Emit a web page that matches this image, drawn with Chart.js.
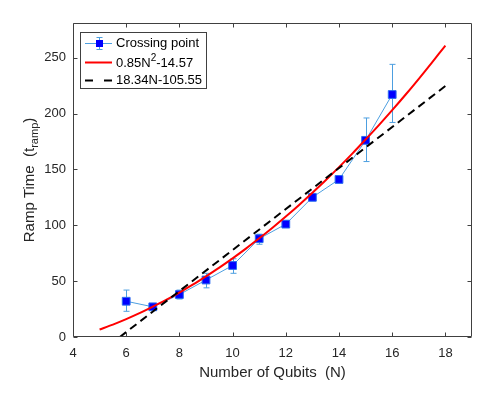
<!DOCTYPE html>
<html>
<head>
<meta charset="utf-8">
<script src="https://cdn.jsdelivr.net/npm/chart.js@4"></script>
<style>
html,body{margin:0;padding:0;background:#fff;}
#wrap{width:498px;height:396px;}
</style>
</head>
<body>
<div id="wrap"><canvas id="c" width="498" height="396"></canvas></div>
<script>
// ---- data ----
const nQubits   = [6, 7, 8, 9, 10, 11, 12, 13, 14, 15, 16];
const rampTime  = [32, 27, 38, 51, 64, 88, 101, 125, 141, 176, 217];
const errLower  = [23, 25, 34, 44, 57, 83, 98, 122, 138, 157, 192];
const errUpper  = [42, 29, 42, 57, 70, 92, 104, 128, 144, 196, 244];

const quadN     = [5, 5.5, 6, 6.5, 7, 7.5, 8, 8.5, 9, 9.5, 10, 10.5, 11, 11.5, 12, 12.5, 13, 13.5, 14, 14.5, 15, 15.5, 16, 16.5, 17, 17.5, 18];
const quadVals  = [6.7, 11.1, 16.0, 21.3, 27.1, 33.2, 39.8, 46.8, 54.3, 62.1, 70.4, 79.1, 88.3, 97.8, 107.8, 118.2, 129.1, 140.3, 152.0, 164.1, 176.7, 189.6, 203.0, 216.8, 231.1, 245.8, 260.8];

const linN      = [5.76, 18];
const linVals   = [0, 224.6];

const xTicks    = [4, 6, 8, 10, 12, 14, 16, 18];
const yTicks    = [0, 50, 100, 150, 200, 250];

const legendLabels = ['Crossing point', '0.85N', '18.34N-105.55'];
const xTitle = 'Number of Qubits  (N)';
const yTitleMain = 'Ramp Time  (t';
const yTitleSub = 'ramp';
const yTitleEnd = ')';

const FONT = "'Liberation Sans', Arial, Helvetica, sans-serif";
const AXIS = '#404040';
const TXT = '#262626';
const LBLUE = '#4d9fe0';

const toPts = (xs, ys) => xs.map((x, i) => ({x: x, y: ys[i]}));

const errorBars = {
  id: 'errorBars',
  beforeDatasetsDraw(chart) {
    const {ctx, scales: {x, y}} = chart;
    ctx.save();
    ctx.strokeStyle = LBLUE;
    ctx.lineWidth = 1;
    nQubits.forEach((n, i) => {
      const px = Math.round(x.getPixelForValue(n)) + 0.5;
      const y1 = y.getPixelForValue(errLower[i]);
      const y2 = y.getPixelForValue(errUpper[i]);
      ctx.beginPath();
      ctx.moveTo(px, y1); ctx.lineTo(px, y2);
      ctx.moveTo(px - 3, y1); ctx.lineTo(px + 3, y1);
      ctx.moveTo(px - 3, y2); ctx.lineTo(px + 3, y2);
      ctx.stroke();
    });
    ctx.restore();
  }
};

const frame = {
  id: 'frame',
  afterDraw(chart) {
    const {ctx, chartArea: a, scales: {x, y}} = chart;
    ctx.save();
    // box
    ctx.strokeStyle = AXIS;
    ctx.lineWidth = 1;
    const L = Math.round(a.left) + 0.5, R = Math.round(a.right) - 0.5;
    const T = Math.round(a.top) + 0.5, B = Math.round(a.bottom) - 0.5;
    ctx.beginPath();
    ctx.rect(L, T, R - L, B - T);
    ctx.stroke();
    // inward ticks
    ctx.beginPath();
    xTicks.forEach(v => {
      const px = Math.round(x.getPixelForValue(v)) + 0.5;
      ctx.moveTo(px, B); ctx.lineTo(px, B - 4);
      ctx.moveTo(px, T); ctx.lineTo(px, T + 4);
    });
    yTicks.forEach(v => {
      const py = Math.round(y.getPixelForValue(v)) + 0.5;
      ctx.moveTo(L, py); ctx.lineTo(L + 4, py);
      ctx.moveTo(R, py); ctx.lineTo(R - 4, py);
    });
    ctx.stroke();

    // x title
    ctx.fillStyle = TXT;
    ctx.font = '15px ' + FONT;
    ctx.textAlign = 'center';
    ctx.textBaseline = 'middle';
    ctx.fillText(xTitle, (a.left + a.right) / 2, 373);

    // y title with subscript
    ctx.save();
    ctx.translate(29, (a.top + a.bottom) / 2);
    ctx.rotate(-Math.PI / 2);
    ctx.textAlign = 'left';
    ctx.textBaseline = 'alphabetic';
    ctx.font = '15px ' + FONT;
    const w1 = ctx.measureText(yTitleMain).width;
    const w3 = ctx.measureText(yTitleEnd).width;
    ctx.font = '11px ' + FONT;
    const w2 = ctx.measureText(yTitleSub).width;
    let sx = -(w1 + w2 + w3) / 2;
    ctx.font = '15px ' + FONT;
    ctx.fillText(yTitleMain, sx, 5);
    ctx.font = '11px ' + FONT;
    ctx.fillText(yTitleSub, sx + w1, 9);
    ctx.font = '15px ' + FONT;
    ctx.fillText(yTitleEnd, sx + w1 + w2, 5);
    ctx.restore();

    // legend
    const lx = 80.5, ly = 32.5, lw = 126, lh = 56;
    ctx.fillStyle = '#fff';
    ctx.fillRect(lx, ly, lw, lh);
    ctx.strokeStyle = AXIS;
    ctx.strokeRect(lx, ly, lw, lh);
    const rows = [43.5, 62.5, 80.5];
    const sx0 = 85, sx1 = 112, tx = 116;
    // row 1: errorbar sample
    ctx.strokeStyle = LBLUE;
    ctx.lineWidth = 1;
    ctx.beginPath();
    ctx.moveTo(sx0, rows[0]); ctx.lineTo(sx1, rows[0]);
    ctx.moveTo(99.5, rows[0] - 6); ctx.lineTo(99.5, rows[0] + 6);
    ctx.moveTo(96.5, rows[0] - 6); ctx.lineTo(102.5, rows[0] - 6);
    ctx.moveTo(96.5, rows[0] + 6); ctx.lineTo(102.5, rows[0] + 6);
    ctx.stroke();
    ctx.fillStyle = '#0000ff';
    ctx.fillRect(96, rows[0] - 3.5, 7, 7);
    // row 2: red line
    ctx.strokeStyle = '#ff0000';
    ctx.lineWidth = 2;
    ctx.beginPath();
    ctx.moveTo(sx0, rows[1]); ctx.lineTo(sx1, rows[1]);
    ctx.stroke();
    // row 3: two dashes
    ctx.strokeStyle = '#000';
    ctx.beginPath();
    ctx.moveTo(sx0, rows[2]); ctx.lineTo(sx0 + 8, rows[2]);
    ctx.moveTo(sx1 - 8, rows[2]); ctx.lineTo(sx1, rows[2]);
    ctx.stroke();
    // texts
    ctx.fillStyle = '#000';
    ctx.textAlign = 'left';
    ctx.textBaseline = 'middle';
    ctx.font = '13px ' + FONT;
    ctx.fillText(legendLabels[0], tx, rows[0]);
    ctx.fillText(legendLabels[1], tx, rows[1] + 1);
    let w = ctx.measureText(legendLabels[1]).width;
    ctx.font = '10px ' + FONT;
    ctx.fillText('2', tx + w, rows[1] - 4);
    const ws = ctx.measureText('2').width;
    ctx.font = '13px ' + FONT;
    ctx.fillText('-14.57', tx + w + ws, rows[1] + 1);
    ctx.fillText(legendLabels[2], tx, rows[2]);
    ctx.restore();
  }
};

new Chart(document.getElementById('c'), {
  type: 'scatter',
  data: {
    datasets: [
      {
        label: 'Crossing point',
        data: toPts(nQubits, rampTime),
        showLine: true,
        borderColor: LBLUE,
        borderWidth: 1,
        pointStyle: 'rect',
        pointRadius: 5.5,
        pointBackgroundColor: '#0000ff',
        pointBorderColor: '#2a6cf0',
        pointBorderWidth: 1,
        order: 3
      },
      {
        label: 'quad',
        data: toPts(quadN, quadVals),
        showLine: true,
        borderColor: '#ff0000',
        borderWidth: 2,
        pointRadius: 0,
        tension: 0.3,
        order: 2
      },
      {
        label: 'lin',
        data: toPts(linN, linVals),
        showLine: true,
        borderColor: '#000000',
        borderWidth: 2,
        borderDash: [8, 5],
        pointRadius: 0,
        order: 1
      }
    ]
  },
  options: {
    responsive: false,
    animation: false,
    devicePixelRatio: 1,
    layout: {padding: {top: 23, right: 26, left: 0, bottom: 0}},
    plugins: {legend: {display: false}, tooltip: {enabled: false}},
    scales: {
      x: {
        type: 'linear',
        min: 4, max: 19,
        afterBuildTicks: s => { s.ticks = xTicks.map(v => ({value: v})); },
        afterFit: s => { s.height = 59; },
        grid: {display: false, drawTicks: false},
        border: {display: false},
        ticks: {padding: 9, color: TXT, font: {family: FONT, size: 13}}
      },
      y: {
        type: 'linear',
        min: 0, max: 281,
        afterBuildTicks: s => { s.ticks = yTicks.map(v => ({value: v})); },
        afterFit: s => { s.width = 73; },
        grid: {display: false, drawTicks: false},
        border: {display: false},
        ticks: {padding: 7, color: TXT, font: {family: FONT, size: 13}}
      }
    }
  },
  plugins: [errorBars, frame]
});
</script>
</body>
</html>
